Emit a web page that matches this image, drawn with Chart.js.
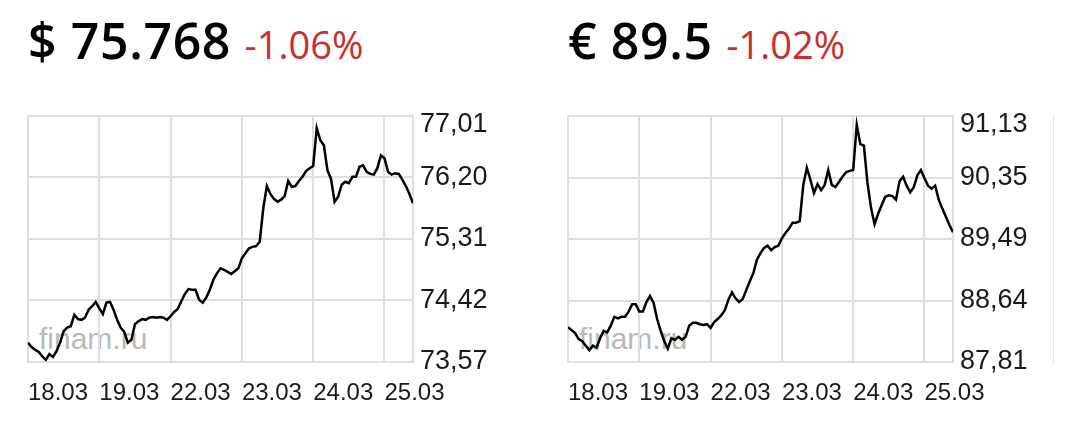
<!DOCTYPE html>
<html>
<head>
<meta charset="utf-8">
<script src="https://cdn.jsdelivr.net/npm/chart.js@4"></script>
<style>
  html, body { margin: 0; padding: 0; background: #fff; }
  body { width: 1080px; height: 442px; position: relative; overflow: hidden; }
  .head { position: absolute; top: 15px; font-family: "Open Sans", sans-serif; font-size: 50px; font-weight: 600; line-height: 1; color: #000; white-space: nowrap; letter-spacing: 0.6px; }
  .chg { font-size: 38px; font-weight: 400; color: #c8302f; letter-spacing: 0; }
  .box { position: absolute; top: 100px; width: 480px; height: 300px; }
  .wm { position: absolute; top: 322px; font-family: "Liberation Sans", Arial, sans-serif; font-size: 30px; color: #b9b9b9; white-space: nowrap; }
  .sep { position: absolute; left: 1053px; top: 115px; width: 1px; height: 248px; background: #e6e6e6; }
</style>
</head>
<body>
<div class="head" style="left:28px">$ 75.768 <span class="chg">-1.06%</span></div>
<div class="head" style="left:568px">€ 89.5 <span class="chg">-1.02%</span></div>
<div class="wm" style="left:39px">finam.ru</div>
<div class="wm" style="left:579px">finam.ru</div>
<div class="sep"></div>
<div class="box" style="left:20px"><canvas id="usd"></canvas></div>
<div class="box" style="left:560px"><canvas id="eur"></canvas></div>
<script>
const days = ['18.03', '19.03', '22.03', '23.03', '24.03', '25.03'];
const usdTicks = ['73,57', '74,42', '75,31', '76,20', '77,01'];
const eurTicks = ['87,81', '88,64', '89,49', '90,35', '91,13'];
const usdMin = 73.57, usdMax = 77.01;
const eurMin = 87.81, eurMax = 91.13;
const pointsPerDay = 20;

const usdValues = [
  73.84, 73.78, 73.74, 73.71, 73.65, 73.60, 73.68, 73.64, 73.72, 73.84,
  74.00, 74.05, 74.07, 74.23, 74.17, 74.16, 74.19, 74.30, 74.35, 74.41,
  74.32, 74.24, 74.40, 74.41, 74.30, 74.16, 74.05, 73.99, 73.84, 73.88,
  74.10, 74.14, 74.17, 74.16, 74.19, 74.20, 74.19, 74.20, 74.19, 74.16,
  74.21, 74.27, 74.31, 74.42, 74.52, 74.59, 74.58, 74.58, 74.44, 74.40,
  74.47, 74.58, 74.72, 74.81, 74.88, 74.86, 74.83, 74.80, 74.84, 74.88,
  75.02, 75.09, 75.16, 75.18, 75.19, 75.25, 75.72, 76.03, 75.92, 75.85,
  75.81, 75.84, 75.89, 76.10, 76.02, 76.03, 76.10, 76.16, 76.24, 76.28,
  76.31, 76.84, 76.67, 76.60, 76.25, 76.13, 75.81, 75.88, 76.05, 76.09,
  76.07, 76.16, 76.16, 76.30, 76.32, 76.23, 76.20, 76.19, 76.28, 76.46,
  76.42, 76.23, 76.19, 76.21, 76.20, 76.12, 76.03, 75.92, 75.79
];

const eurValues = [
  88.28, 88.24, 88.20, 88.12, 88.09, 88.03, 87.97, 88.03, 88.00, 88.13,
  88.23, 88.21, 88.30, 88.42, 88.40, 88.42, 88.42, 88.49, 88.59, 88.59,
  88.49, 88.49, 88.62, 88.70, 88.61, 88.39, 88.23, 88.09, 87.99, 88.13,
  88.11, 88.15, 88.11, 88.15, 88.30, 88.34, 88.34, 88.32, 88.31, 88.32,
  88.27, 88.35, 88.39, 88.44, 88.51, 88.65, 88.75, 88.67, 88.62, 88.66,
  88.78, 88.90, 89.01, 89.19, 89.28, 89.35, 89.38, 89.32, 89.36, 89.38,
  89.48, 89.55, 89.61, 89.69, 89.69, 89.71, 90.20, 90.43, 90.27, 90.09,
  90.21, 90.13, 90.20, 90.40, 90.20, 90.17, 90.24, 90.31, 90.37, 90.39,
  90.40, 91.01, 90.75, 90.73, 90.23, 89.89, 89.67, 89.81, 89.93, 90.04,
  90.06, 90.05, 90.00, 90.25, 90.31, 90.19, 90.10, 90.17, 90.33, 90.40,
  90.29, 90.19, 90.15, 90.19, 90.00, 89.88, 89.77, 89.66, 89.56
];

const GRID = '#dedede';
const FONT = '"Liberation Sans", Arial, sans-serif';

function makeChart(id, values, yMin, yMax, yLabels) {
  const top = yLabels.length - 1;
  return new Chart(document.getElementById(id), {
    type: 'line',
    data: {
      datasets: [{
        data: values.map((v, i) => ({ x: i, y: v })),
        borderColor: '#000',
        borderWidth: 2.5,
        pointRadius: 0,
        tension: 0,
        fill: false
      }]
    },
    options: {
      responsive: true,
      maintainAspectRatio: false,
      animation: false,
      layout: { padding: { left: 8, top: 16, right: 0, bottom: 0 } },
      plugins: { legend: { display: false }, tooltip: { enabled: false } },
      scales: {
        x: {
          type: 'linear',
          min: 0,
          max: values.length - 1,
          afterFit: s => { s.height = 38; s.paddingLeft = 0; s.paddingRight = 0; },
          grid: { color: GRID, lineWidth: 2, drawTicks: false },
          border: { display: true, color: GRID, width: 2 },
          ticks: {
            stepSize: pointsPerDay,
            includeBounds: false,
            autoSkip: false,
            maxRotation: 0,
            align: 'start',
            padding: 17,
            color: '#1a1a1a',
            font: { family: FONT, size: 24 },
            callback: v => days[Math.round(v / pointsPerDay)] || ''
          }
        },
        y: {
          position: 'right',
          min: yMin,
          max: yMax,
          afterFit: s => { s.width = 87; s.paddingTop = 0; s.paddingBottom = 0; },
          grid: { color: GRID, lineWidth: 2, drawTicks: false },
          border: { display: true, color: GRID, width: 2 },
          ticks: {
            count: yLabels.length,
            padding: 7,
            color: '#1a1a1a',
            font: ctx => ctx.index === top
              ? { family: FONT, size: 27, lineHeight: 0.62 }
              : { family: FONT, size: 27 },
            callback: (v, i) => i === top ? ['', yLabels[i]] : yLabels[i]
          }
        }
      }
    }
  });
}

makeChart('usd', usdValues, usdMin, usdMax, usdTicks);
makeChart('eur', eurValues, eurMin, eurMax, eurTicks);
</script>
</body>
</html>
